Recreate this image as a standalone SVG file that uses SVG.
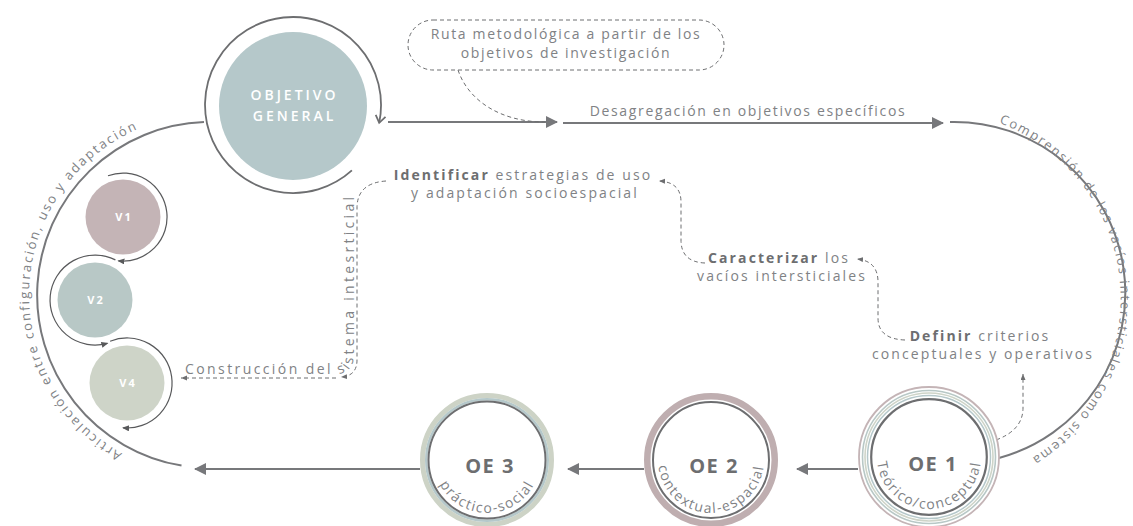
<svg xmlns="http://www.w3.org/2000/svg" width="1133" height="526" viewBox="0 0 1133 526">
<style>
text{font-family:"Open Sans","Noto Sans","Liberation Sans",sans-serif;fill:#808285;}
.t{font-size:14px;letter-spacing:1.65px;}
.n{font-size:14px;letter-spacing:2.1px;}
.c{font-size:14px;}
.b{font-weight:700;fill:#6d6e70;}
.ln{fill:none;stroke:#77787b;stroke-width:2;}
.ds{fill:none;stroke:#6d6e70;stroke-width:1;stroke-dasharray:4 3;}
.va{fill:none;stroke:#58595b;stroke-width:1.2;}
.oe{font-size:20px;font-weight:700;fill:#6d6e70;letter-spacing:1.5px;}
.arcR{font-size:13px;letter-spacing:1.7px;}
.arcL{font-size:13px;letter-spacing:2px;}
.oet{font-size:14px;letter-spacing:1.5px;}
.vl{font-size:11px;font-weight:700;fill:#fff;letter-spacing:2px;}
.og{font-size:14px;font-weight:600;fill:#fff;letter-spacing:3px;}
</style>
<defs>
<marker id="ah" markerUnits="userSpaceOnUse" markerWidth="14" markerHeight="14" refX="11" refY="6" orient="auto"><path d="M0,0 L12,6 L0,12 Z" fill="#77787b"/></marker>
<marker id="as" markerUnits="userSpaceOnUse" markerWidth="8" markerHeight="8" refX="6" refY="2.5" orient="auto"><path d="M0,0 L6,2.5 L0,5 Z" fill="#6d6e70"/></marker>
<marker id="av" markerUnits="userSpaceOnUse" markerWidth="9" markerHeight="9" refX="6" refY="3" orient="auto"><path d="M0,0 L7,3 L0,6 Z" fill="#58595b"/></marker>
<marker id="chev" markerUnits="userSpaceOnUse" markerWidth="14" markerHeight="14" refX="8" refY="6" orient="auto"><path d="M1,1 L8,6 L1,11" fill="none" stroke="#6d6e70" stroke-width="1.8"/></marker>
<path id="pR" d="M 999 122.8 A 187.7 187.7 0 0 1 981.6 479.8"/>
<path id="pL" d="M 122.3 453.3 A 181 181 0 0 1 172.4 118"/>
<path id="pOE1" d="M 877 457 A 52 52 0 0 0 981 457"/>
<path id="pOE2" d="M 658 460 A 53 53 0 0 0 764 460"/>
<path id="pOE3" d="M 434 460 A 53 53 0 0 0 540 460"/>
<path id="pS" d="M 185 374 H 334 Q 354 374 354 354 V 140"/>
</defs>

<g id="connectors">
  <path class="ln" d="M 388 122 H 557" marker-end="url(#ah)"/>
  <path class="ln" d="M 563 123 H 943" marker-end="url(#ah)"/>
  <path class="ln" d="M 950 122 A 171 171 0 0 1 999 458"/>
  <path class="ln" d="M 204 122.1 A 173 173 0 0 0 181.5 465.6"/>
  <path class="ln" d="M 858 469 H 797" marker-end="url(#ah)"/>
  <path class="ln" d="M 644 469 H 568" marker-end="url(#ah)"/>
  <path class="ln" d="M 420 469 H 195" marker-end="url(#ah)"/>
  <path class="ds" d="M 458 70 C 468 100 500 122 545 122"/>
  <path class="ds" d="M 386 181 Q 357 183 357 208 V 360 Q 357 376 341 377" marker-end="url(#as)"/>
  <path class="ds" d="M 336 378 H 181" marker-end="url(#as)"/>
  <path class="ds" d="M 705 263 Q 681 262 681 240 V 202 Q 681 182 659 181" marker-end="url(#as)"/>
  <path class="ds" d="M 905 340 Q 878 339 878 318 V 282 Q 878 261 857 259" marker-end="url(#as)"/>
  <path class="ds" d="M 996 440 Q 1023 430 1023 408 V 374" marker-end="url(#as)"/>
  <text class="t" x="748" y="116" text-anchor="middle">Desagregación en objetivos específicos</text>
  <text class="arcR"><textPath href="#pR">Comprensión de los vacíos intersticiales como sistema</textPath></text>
  <text class="arcL"><textPath href="#pL">Articulación entre configuración, uso y adaptación</textPath></text>
  <text class="c"><textPath href="#pS"><tspan style="letter-spacing:2.4px">Construcción del </tspan><tspan style="letter-spacing:3.3px">sistema intesrticial</tspan></textPath></text>
</g>

<g id="objetivo-general">
  <circle cx="293" cy="106" r="74" fill="#b5c8ca"/>
  <path d="M 351.9 170.4 A 88 88 0 1 1 379.2 122.8" fill="none" stroke="#6d6e70" stroke-width="1.8" marker-end="url(#chev)"/>
  <text class="og" x="294.5" y="100" text-anchor="middle">OBJETIVO</text>
  <text class="og" x="294.5" y="121" text-anchor="middle">GENERAL</text>
</g>

<g id="ruta">
  <rect x="408" y="20" width="316" height="50" rx="25" class="ds"/>
  <text class="t" x="566" y="39" text-anchor="middle">Ruta metodológica a partir de los</text>
  <text class="t" x="566" y="58" text-anchor="middle">objetivos de investigación</text>
</g>

<g id="identificar">
  <text class="n" x="523" y="180" text-anchor="middle"><tspan class="b">Identificar</tspan> estrategias de uso</text>
  <text class="n" x="525" y="198" text-anchor="middle">y adaptación socioespacial</text>
</g>

<g id="caracterizar">
  <text class="n" x="779" y="263" text-anchor="middle"><tspan class="b">Caracterizar</tspan> los</text>
  <text class="n" x="782" y="281" text-anchor="middle">vacíos intersticiales</text>
</g>

<g id="definir">
  <text class="n" x="980" y="341" text-anchor="middle"><tspan class="b">Definir</tspan> criterios</text>
  <text class="n" x="983" y="359" text-anchor="middle">conceptuales y operativos</text>
</g>

<g id="v1">
  <circle cx="123" cy="217" r="37.5" fill="#c4b4b6"/>
  <path class="va" d="M 108 175.7 A 44 44 0 1 1 118.4 260.8" marker-end="url(#av)"/>
  <text class="vl" x="124" y="221" text-anchor="middle">V1</text>
</g>
<g id="v2">
  <circle cx="95" cy="300" r="37.5" fill="#b8c8c6"/>
  <path class="va" d="M 115.4 259.9 A 45 45 0 1 0 107.4 343.3" marker-end="url(#av)"/>
  <text class="vl" x="96" y="304" text-anchor="middle">V2</text>
</g>
<g id="v4">
  <circle cx="127" cy="383" r="37.5" fill="#ced4c8"/>
  <path class="va" d="M 110.1 341.3 A 45 45 0 1 1 123.1 427.8" marker-end="url(#av)"/>
  <text class="vl" x="128" y="387" text-anchor="middle">V4</text>
</g>

<g id="oe1">
  <circle cx="929" cy="457" r="70" fill="#fff" stroke="#c4b4b6" stroke-width="1.8"/>
  <circle cx="929" cy="457" r="66.5" fill="none" stroke="#b8c8c6" stroke-width="1.6"/>
  <circle cx="929" cy="457" r="64" fill="none" stroke="#ced4c8" stroke-width="1.6"/>
  <circle cx="929" cy="457" r="61.5" fill="none" stroke="#b5c8ca" stroke-width="1.5"/>
  <circle cx="929" cy="457" r="57.8" fill="none" stroke="#6d6e70" stroke-width="2.2"/>
  <text class="oe" x="933" y="471" text-anchor="middle">OE 1</text>
  <text class="oet"><textPath href="#pOE1" startOffset="50%" text-anchor="middle">Teórico/conceptual</textPath></text>
</g>

<g id="oe2">
  <circle cx="711" cy="460" r="63.75" fill="#fff" stroke="#bfaeb0" stroke-width="6.5"/>
  <circle cx="711" cy="460" r="58" fill="none" stroke="#6d6e70" stroke-width="2"/>
  <text class="oe" x="714" y="473" text-anchor="middle">OE 2</text>
  <text class="oet"><textPath href="#pOE2" startOffset="50%" text-anchor="middle">contextual-espacial</textPath></text>
</g>

<g id="oe3">
  <circle cx="487" cy="460" r="64.5" fill="#fff" stroke="#cdd3c6" stroke-width="5"/>
  <circle cx="487" cy="460" r="60.75" fill="none" stroke="#b5c8ca" stroke-width="2.5"/>
  <circle cx="487" cy="460" r="58.5" fill="none" stroke="#6d6e70" stroke-width="2"/>
  <text class="oe" x="490" y="473" text-anchor="middle">OE 3</text>
  <text class="oet"><textPath href="#pOE3" startOffset="50%" text-anchor="middle">práctico-social</textPath></text>
</g>
</svg>
